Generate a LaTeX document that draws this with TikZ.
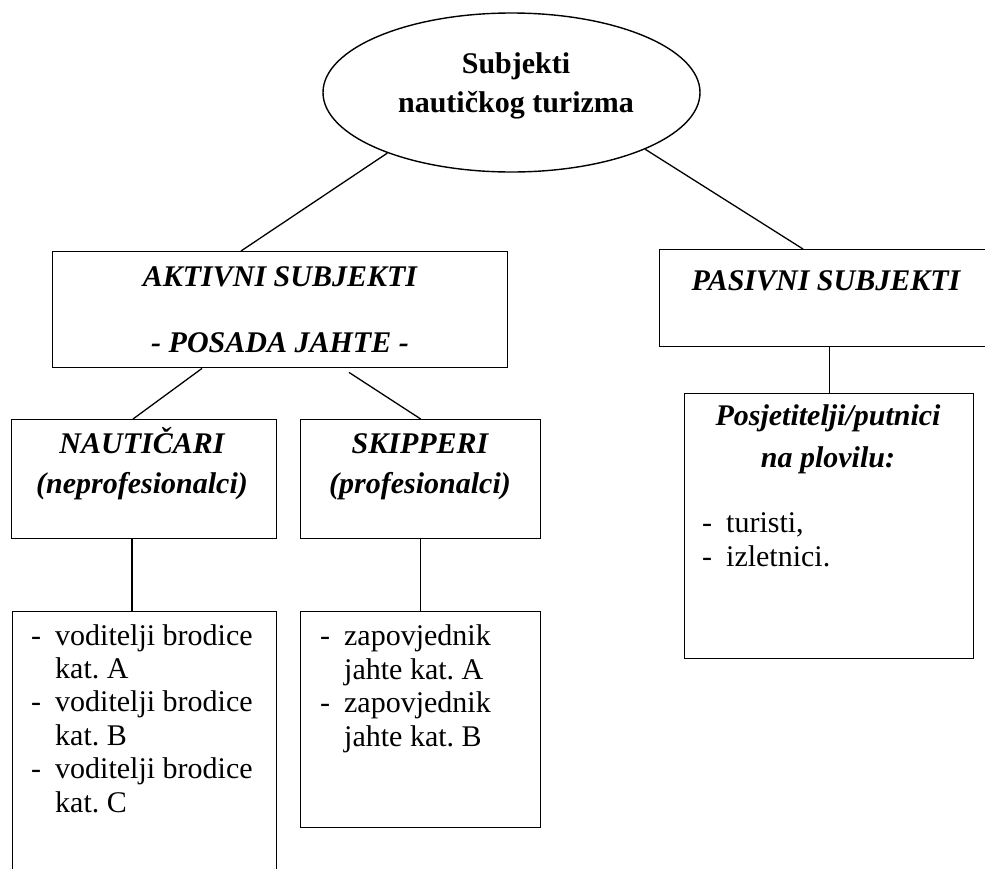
\documentclass[tikz,border=0pt]{standalone}
\usepackage{fontspec}
\setmainfont{Liberation Serif}
\usetikzlibrary{shapes.geometric}
\frenchspacing
\tikzstyle{frame}=[draw,rectangle,inner sep=0pt,anchor=north west,line width=1.4pt]
\tikzstyle{oval}=[draw,ellipse,inner sep=0pt,line width=1.4pt]
\tikzstyle{head}=[
  font=\fontsize{30}{40}\selectfont\bfseries\itshape,align=center,anchor=base,inner sep=0pt
]
\tikzstyle{list}=[
  font=\fontsize{30}{33.4}\selectfont,align=left,anchor=base west,inner sep=0pt
]
\tikzstyle{link}=[line width=1.3pt]
\newcommand{\dashitem}{\makebox[24pt][l]{-}}
\newcommand{\hangpad}{\hspace*{24pt}}

\begin{document}
\begin{tikzpicture}[x=1pt,y=-1pt]
    \useasboundingbox (0,0) rectangle (985,868);
    % top
    \node[oval,minimum width=377pt,minimum height=159pt] (root) at (511.5,92.5) {};
    \node[head,font=\fontsize{30}{39}\selectfont\bfseries] (roottxt) at (516,112)
          {Subjekti\\nautičkog turizma};
    % active and passive
    \node[frame,minimum width=455pt,minimum height=116pt] (aktivni) at (52,251) {};
    \node[head] (aktivnitxt) at (280,352) {AKTIVNI SUBJEKTI\\[26pt]- POSADA JAHTE -};
    \node[frame,minimum width=334pt,minimum height=97pt] (pasivni) at (659,249) {};
    \node[head] (pasivnitxt) at (826,290) {PASIVNI SUBJEKTI};
    % crew
    \node[frame,minimum width=265pt,minimum height=119pt] (nauticari) at (11,419) {};
    \node[head] (nauticaritxt) at (142,493) {NAUTIČARI\\(neprofesionalci)};
    \node[frame,minimum width=240pt,minimum height=119pt] (skipperi) at (300,419) {};
    \node[head] (skipperitxt) at (420,493) {SKIPPERI\\(profesionalci)};
    % visitors
    \node[frame,minimum width=289pt,minimum height=265pt] (posjet) at (684,393) {};
    \node[head,font=\fontsize{30}{42}\selectfont\bfseries\itshape] (posjettxt) at (828,467)
          {Posjetitelji/putnici\\na plovilu:};
    \node[list] (posjetlist) at (702,566) {\dashitem turisti,\\\dashitem izletnici.};
    % licences
    \node[frame,minimum width=264pt,minimum height=300pt] (voditelji) at (12,611) {};
    \node[list] (voditeljilist) at (31,812) {\dashitem voditelji brodice\\\hangpad kat. A\\
          \dashitem voditelji brodice\\\hangpad kat. B\\
          \dashitem voditelji brodice\\\hangpad kat. C};
    \node[frame,minimum width=240pt,minimum height=216pt] (zapovj) at (300,611) {};
    \node[list] (zapovjlist) at (320,746) {\dashitem zapovjednik\\\hangpad jahte kat. A\\
          \dashitem zapovjednik\\\hangpad jahte kat. B};
    % connectors
    \draw[link] (root.206) -- ([xshift=189pt]aktivni.north west);
    \draw[link] (root.337) -- ([xshift=144pt]pasivni.north west);
    \draw[link] ([xshift=150pt]aktivni.south west) -- ([xshift=122pt]nauticari.north west);
    \draw[link] ([xshift=297pt,yshift=-4pt]aktivni.south west) -- (skipperi.north);
    \draw[link] ([xshift=121pt]nauticari.south west) -- ([xshift=120pt]voditelji.north west);
    \draw[link] (skipperi.south) -- (zapovj.north);
    \draw[link] (pasivni.south -| posjet.north) -- (posjet.north);
\end{tikzpicture}
\end{document}
